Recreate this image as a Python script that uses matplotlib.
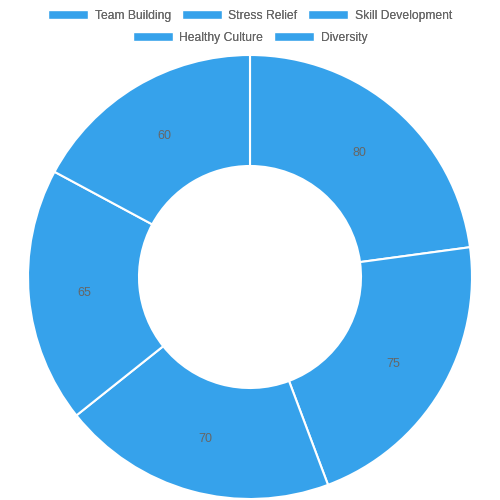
import matplotlib.pyplot as plt
from matplotlib.patches import Patch

categories = ['Team Building', 'Stress Relief', 'Skill Development', 'Healthy Culture', 'Diversity']
values = [80, 75, 70, 65, 60]
color = '#36A2EB'

plt.rcParams['font.family'] = ['Liberation Sans', 'DejaVu Sans']

fig = plt.figure(figsize=(5, 5), dpi=100)
ax = fig.add_axes([0, 0, 1, 1])

wedges, texts = ax.pie(values, colors=[color] * len(values), startangle=90, counterclock=False,
                       center=(250, 223), radius=222, labels=[str(v) for v in values],
                       labeldistance=0.75,
                       wedgeprops=dict(width=111, edgecolor='white', linewidth=1.5),
                       textprops=dict(color='#666666', fontsize=9))
for t in texts:
    t.set_ha('center')
    t.set_va('center_baseline')

ax.set_xlim(0, 500)
ax.set_ylim(0, 500)
ax.set_aspect('equal')
ax.axis('off')

def make_legend(names, y):
    handles = [Patch(facecolor=color, edgecolor='white', label=n) for n in names]
    leg = fig.legend(handles=handles, loc='center', bbox_to_anchor=(0.5, y), ncol=len(names),
                     frameon=False, fontsize=8.7, handlelength=3.3, handleheight=0.8,
                     handletextpad=0.55, columnspacing=0.9, labelcolor='#666666',
                     borderpad=0, borderaxespad=0)
    fig.add_artist(leg)

make_legend(categories[:3], 1 - 16 / 500)
make_legend(categories[3:], 1 - 38 / 500)

fig.savefig('out.png', dpi=100)
